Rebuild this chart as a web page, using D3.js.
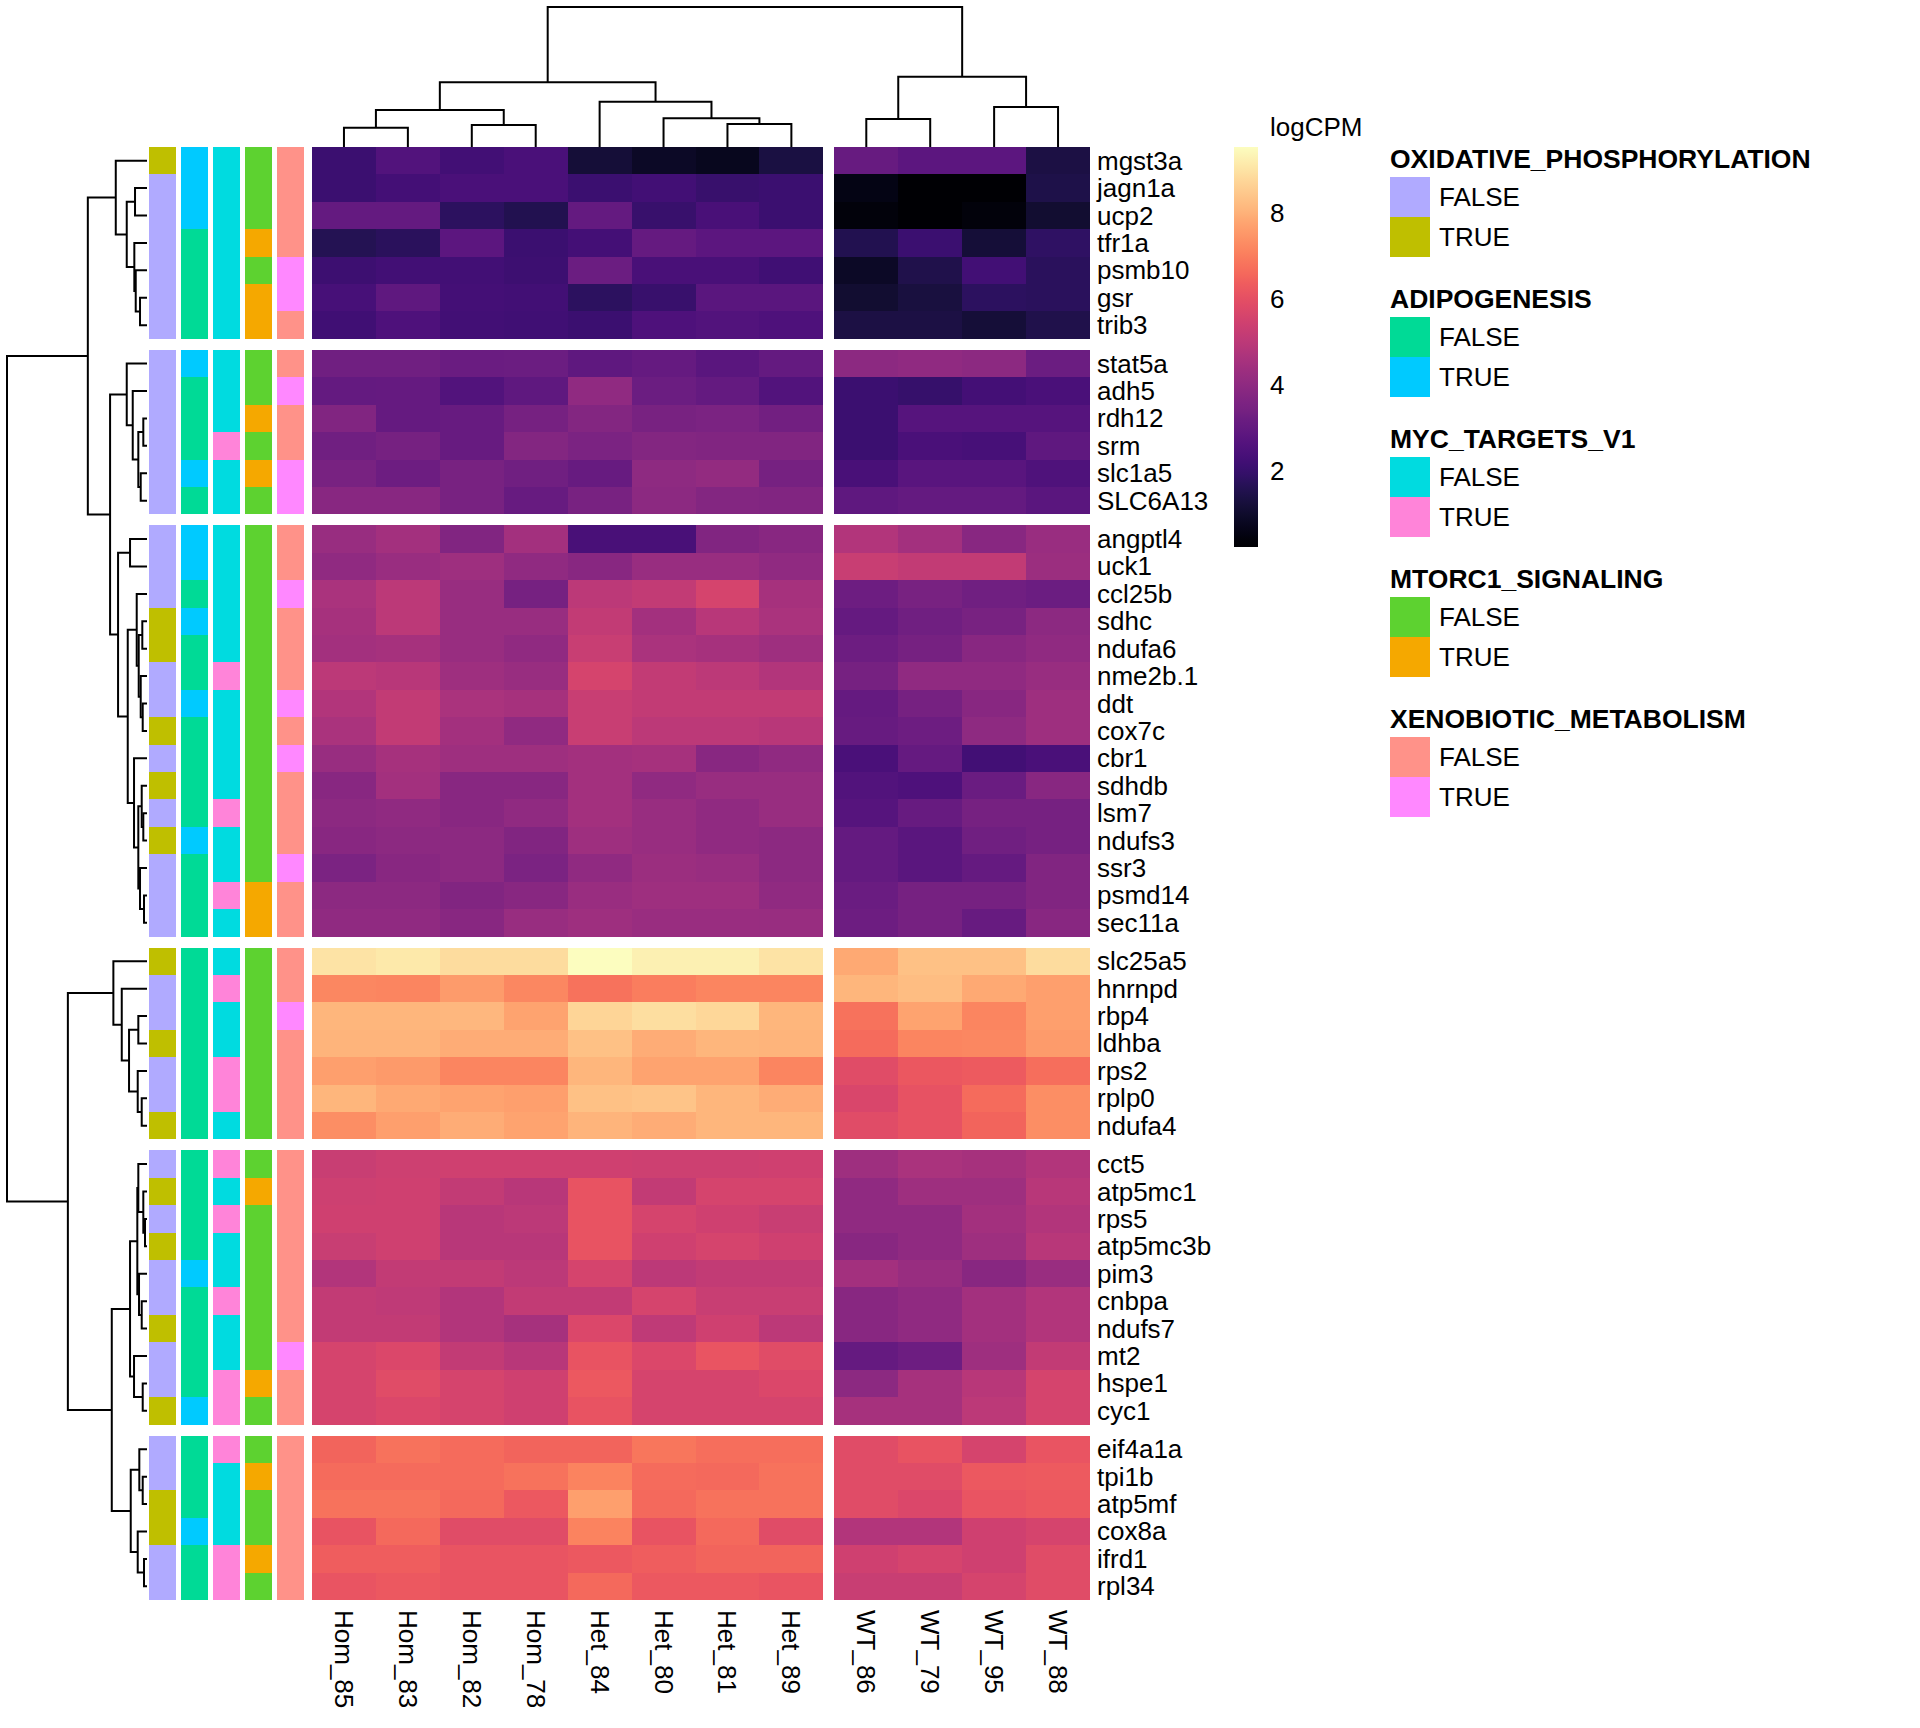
<!DOCTYPE html>
<html><head><meta charset="utf-8">
<script src="https://cdn.jsdelivr.net/npm/d3@7"></script>
<style>
body{margin:0;background:#fff}
svg{display:block;font-family:"Liberation Sans",Arial,Helvetica,sans-serif}
</style>
</head><body>
<svg id="chart" width="1920" height="1728"></svg>
<script>
// ---------------- DATA ----------------
const samplesA = ["Hom_85","Hom_83","Hom_82","Hom_78","Het_84","Het_80","Het_81","Het_89"];
const samplesB = ["WT_86","WT_79","WT_95","WT_88"];

const genesB1 = ["mgst3a","jagn1a","ucp2","tfr1a","psmb10","gsr","trib3"];
const genesB2 = ["stat5a","adh5","rdh12","srm","slc1a5","SLC6A13"];
const genesB3 = ["angptl4","uck1","ccl25b","sdhc","ndufa6","nme2b.1","ddt","cox7c","cbr1","sdhdb","lsm7","ndufs3","ssr3","psmd14","sec11a"];
const genesB4 = ["slc25a5","hnrnpd","rbp4","ldhba","rps2","rplp0","ndufa4"];
const genesB5 = ["cct5","atp5mc1","rps5","atp5mc3b","pim3","cnbpa","ndufs7","mt2","hspe1","cyc1"];
const genesB6 = ["eif4a1a","tpi1b","atp5mf","cox8a","ifrd1","rpl34"];

// logCPM, columns in order samplesA then samplesB
const valsB1 = [
 [2.1,2.6,2.25,2.45,1.2,0.9,0.75,1.35,3.1,2.85,2.85,1.4],
 [2.1,2.3,2.45,2.45,2.1,2.25,2.05,2.1,0.6,0.27,0.27,1.45],
 [3.0,3.0,1.8,1.55,3.0,2.05,2.4,2.1,0.45,0.24,0.45,1.1],
 [1.6,1.75,2.85,2.1,2.3,3.05,2.85,2.85,1.55,2.1,1.2,1.85],
 [2.15,2.25,2.25,2.15,3.2,2.4,2.4,2.2,0.9,1.5,2.25,1.75],
 [2.35,2.9,2.3,2.25,1.8,2.05,2.8,2.8,1.1,1.3,1.8,1.75],
 [2.2,2.5,2.25,2.2,2.1,2.5,2.6,2.5,1.4,1.4,1.2,1.5]
];
const valsB2 = [
 [3.3,3.3,3.15,3.2,2.9,3.05,2.8,3.0,3.95,4.05,3.95,3.2],
 [3.0,3.05,2.6,2.9,4.05,3.2,3.0,2.6,2.1,2.0,2.3,2.45],
 [3.7,3.05,3.1,3.45,3.75,3.5,3.55,3.35,2.1,2.7,2.7,2.7],
 [3.3,3.45,3.1,3.75,3.55,3.75,3.7,3.7,2.1,2.45,2.35,2.9],
 [3.5,3.25,3.5,3.3,3.1,4.0,4.1,3.45,2.4,2.75,2.75,2.55],
 [3.85,3.85,3.5,3.1,3.5,3.95,3.75,3.7,2.9,3.0,3.0,2.8]
];
const valsB3 = [
 [4.2,4.45,3.7,4.45,2.4,2.4,3.7,3.85,4.8,4.45,3.85,4.25],
 [4.05,4.25,4.35,4.05,3.85,4.2,4.2,4.05,5.3,5.15,5.15,4.3],
 [4.6,5.0,4.2,3.45,5.0,5.15,5.6,4.55,3.25,3.5,3.3,3.2],
 [4.55,5.0,4.2,4.2,5.15,4.45,4.95,4.6,3.05,3.3,3.5,3.95],
 [4.45,4.55,4.2,4.05,5.3,4.6,4.55,4.35,3.25,3.45,3.85,4.05],
 [5.0,4.95,4.35,4.2,5.6,5.15,5.0,4.8,3.45,4.05,4.05,4.2],
 [4.8,5.15,4.6,4.55,5.3,5.15,5.15,5.15,3.05,3.45,3.85,4.35],
 [4.6,5.15,4.45,4.05,5.3,5.0,5.0,4.95,3.1,3.25,4.0,4.35],
 [4.2,4.55,4.35,4.35,4.45,4.55,3.85,4.05,2.45,3.05,2.25,2.45],
 [3.85,4.45,3.85,3.85,4.45,4.05,4.2,4.2,2.6,2.5,3.15,3.85],
 [3.95,4.05,3.85,4.05,4.45,4.2,4.05,4.2,2.7,3.1,3.45,3.45],
 [3.85,3.95,3.95,3.7,4.35,4.2,4.05,3.95,3.0,2.8,3.3,3.45],
 [3.55,3.85,3.95,3.55,4.05,4.3,4.2,3.95,3.0,2.8,3.05,3.7],
 [3.95,3.95,3.7,3.85,4.25,4.35,4.35,4.05,3.15,3.45,3.45,3.7],
 [4.05,4.05,3.85,4.2,4.35,4.25,4.25,4.2,3.25,3.45,3.1,3.85]
];
const valsB4 = [
 [9.0,9.1,8.85,8.85,9.53,9.25,9.25,9.0,7.85,8.3,8.3,8.85],
 [7.2,7.15,7.6,7.2,6.8,7.0,7.15,7.15,8.1,8.25,7.85,7.67],
 [8.1,8.1,8.15,7.75,8.7,8.9,8.75,8.1,6.8,7.75,7.15,7.67],
 [8.05,8.05,7.9,7.9,8.3,7.9,8.1,8.05,6.65,7.15,7.2,7.6],
 [7.67,7.55,7.15,7.15,8.1,7.75,7.75,7.15,5.9,6.2,6.3,6.7],
 [8.1,7.85,7.75,7.67,8.3,8.4,8.1,7.9,5.7,6.05,6.65,7.35],
 [7.35,7.67,7.9,7.75,8.05,7.9,8.1,8.1,5.9,6.05,6.5,7.35]
];
const valsB5 = [
 [5.3,5.4,5.45,5.45,5.45,5.4,5.4,5.45,4.35,4.6,4.55,4.8],
 [5.4,5.45,5.15,4.95,6.1,5.15,5.6,5.6,4.05,4.35,4.35,4.95],
 [5.45,5.45,4.95,5.0,6.1,5.6,5.45,5.3,4.05,4.05,4.45,4.8],
 [5.3,5.45,4.95,4.95,6.1,5.45,5.6,5.45,3.85,4.05,4.35,4.95],
 [4.8,5.15,5.15,5.0,5.6,5.0,5.15,5.15,4.45,4.2,3.85,4.25],
 [5.15,5.1,4.8,5.15,5.15,5.6,5.3,5.3,3.85,4.05,4.45,4.8],
 [5.15,5.15,4.8,4.55,5.75,5.1,5.45,5.0,3.85,4.05,4.45,4.8],
 [5.6,5.75,5.15,4.95,6.1,5.75,6.15,5.9,3.05,3.25,4.35,5.15],
 [5.6,5.9,5.6,5.45,6.25,5.6,5.6,5.75,3.95,4.55,4.95,5.6],
 [5.6,5.75,5.6,5.45,6.1,5.6,5.6,5.6,4.55,4.55,5.0,5.6]
];
const valsB6 = [
 [6.5,6.8,6.65,6.5,6.5,6.85,6.7,6.7,5.9,6.1,5.6,6.15],
 [6.65,6.65,6.65,6.8,7.1,6.65,6.6,6.8,5.9,5.9,6.25,6.3],
 [6.8,6.8,6.6,6.25,7.67,6.6,6.8,6.8,5.9,5.75,6.15,6.25],
 [6.1,6.6,5.9,5.9,7.1,6.1,6.6,5.9,4.8,4.8,5.45,5.6],
 [6.35,6.35,6.15,6.15,6.25,6.35,6.5,6.5,5.45,5.6,5.45,5.9],
 [6.15,6.25,6.15,6.15,6.6,6.25,6.25,6.15,5.3,5.3,5.6,5.9]
];

// row annotations (1 = TRUE), in row order of the 51 genes
const annOxphos = [1,0,0,0,0,0,0, 0,0,0,0,0,0, 0,0,0,1,1,0,0,1,0,1,0,1,0,0,0, 1,0,0,1,0,0,1, 0,1,0,1,0,0,1,0,0,1, 0,0,1,1,0,0];
const annAdipo  = [1,1,1,0,0,0,0, 1,0,0,0,1,0, 1,1,0,1,0,0,1,0,0,0,0,1,0,0,0, 0,0,0,0,0,0,0, 0,0,0,0,1,0,0,0,0,1, 0,0,0,1,0,0];
const annMyc    = [0,0,0,0,0,0,0, 0,0,0,1,0,0, 0,0,0,0,0,1,0,0,0,0,1,0,0,1,0, 0,1,0,0,1,1,0, 1,0,1,0,0,1,0,0,1,1, 1,0,0,0,1,1];
const annMtorc1 = [0,0,0,1,0,1,1, 0,0,1,0,1,0, 0,0,0,0,0,0,0,0,0,0,0,0,0,1,1, 0,0,0,0,0,0,0, 0,1,0,0,0,0,0,0,1,0, 0,1,0,0,1,0];
const annXeno   = [0,0,0,0,1,1,0, 0,1,0,0,1,1, 0,0,1,0,0,0,1,0,1,0,0,0,1,0,0, 0,0,1,0,0,0,0, 0,0,0,0,0,0,0,1,0,0, 0,0,0,0,0,0];

const annNames  = ["OXIDATIVE_PHOSPHORYLATION","ADIPOGENESIS","MYC_TARGETS_V1","MTORC1_SIGNALING","XENOBIOTIC_METABOLISM"];
const annLevels = ["FALSE","TRUE"];

// dendrograms: [height, left, right]
const colTree = [14.03,
  [6.5, [3.7, [1.93,"Hom_85","Hom_83"], [2.2,"Hom_82","Hom_78"]],
        [4.53, "Het_84", [2.87, "Het_80", [2.3,"Het_81","Het_89"]]]],
  [7.03, [2.8,"WT_86","WT_79"], [4.0,"WT_95","WT_88"]]];

const treeB1 = [31.3, "mgst3a", [20.3, [12,"jagn1a","ucp2"], [12.7,"tfr1a",[11.3,"psmb10",[7,"gsr","trib3"]]]]];
const treeB2 = [20.3, "stat5a", [14.3, "adh5", [8.7, [3.7,"rdh12","srm"], [6.3,"slc1a5","SLC6A13"]]]];
const treeB3 = [29, [17,"angptl4","uck1"],
  [19.3, [10.3,"ccl25b",[8.3,[4.7,"sdhc","ndufa6"],[6.3,"nme2b.1",[4.3,"ddt","cox7c"]]]],
         [13,"cbr1",[8.7,[5.3,"sdhdb",[3.7,"lsm7","ndufs3"]],[7,"ssr3",[3,"psmd14","sec11a"]]]]]];
const treeB4 = [33.7, "slc25a5", [25.3, "hnrnpd", [18, [8.7,"rbp4","ldhba"], [9.3,"rps2",[5.3,"rplp0","ndufa4"]]]]];
const treeB5 = [17, [9.7, [8.7,"cct5",[3.7,"atp5mc1",[2,"rps5","atp5mc3b"]]], [8,"pim3",[5.3,"cnbpa","ndufs7"]]],
                    [13,"mt2",[4.3,"hspe1","cyc1"]]];
const treeB6 = [16.3, [7.7,"eif4a1a",[4.3,"tpi1b","atp5mf"]], [9.3,"cox8a",[3,"ifrd1","rpl34"]]];
const rowTree = [140.3, [59.3, treeB1, [37, treeB2, treeB3]], [79.3, treeB4, [35.3, treeB5, treeB6]]];

const legendTicks = [2,4,6,8];
const valueRange = [0.24, 9.53];

// ---------------- LAYOUT ----------------
const svg = d3.select("#chart");
const FONT = 26;
const HX0 = 312, HX1 = 1090, GAPX = 11;
const HY0 = 147, HY1 = 1600, GAPY = 11;

const colBlocks = [samplesA, samplesB];
const nCols = samplesA.length + samplesB.length;
const cw = (HX1 - HX0 - GAPX*(colBlocks.length-1)) / nCols;
const xScales = []; { let x = HX0; colBlocks.forEach(b => { xScales.push(d3.scaleBand().domain(b).range([x, x + b.length*cw])); x += b.length*cw + GAPX; }); }
const allSamples = colBlocks.flat();
const xOf = s => xScales.find(sc => sc.domain().includes(s));

const rowBlocks = [genesB1,genesB2,genesB3,genesB4,genesB5,genesB6];
const valBlocks = [valsB1,valsB2,valsB3,valsB4,valsB5,valsB6];
const nRows = d3.sum(rowBlocks, b => b.length);
const rh = (HY1 - HY0 - GAPY*(rowBlocks.length-1)) / nRows;
const yScales = []; { let y = HY0; rowBlocks.forEach(b => { yScales.push(d3.scaleBand().domain(b).range([y, y + b.length*rh])); y += b.length*rh + GAPY; }); }
const allGenes = rowBlocks.flat();
const yOf = g => yScales.find(sc => sc.domain().includes(g));

const color = d3.scaleSequential(d3.interpolateMagma).domain(valueRange);

// ---------------- HEATMAP ----------------
const cells = [];
rowBlocks.forEach((genes, bi) => genes.forEach((g, ri) => allSamples.forEach((s, ci) => cells.push({g, s, v: valBlocks[bi][ri][ci]}))));
svg.append("g").selectAll("rect").data(cells).join("rect")
  .attr("x", d => xOf(d.s)(d.s)).attr("y", d => yOf(d.g)(d.g))
  .attr("width", d => xOf(d.s).bandwidth()).attr("height", d => yOf(d.g).bandwidth())
  .attr("fill", d => color(d.v)).attr("shape-rendering","crispEdges");

// row labels
svg.append("g").selectAll("text").data(allGenes).join("text")
  .attr("x", HX1 + 7).attr("y", g => yOf(g)(g) + yOf(g).bandwidth()/2)
  .attr("dominant-baseline","central").attr("font-size", FONT).text(g => g);

// column labels
svg.append("g").selectAll("text").data(allSamples).join("text")
  .attr("transform", s => `translate(${xOf(s)(s) + xOf(s).bandwidth()/2},${HY1 + 10}) rotate(90)`)
  .attr("dominant-baseline","central").attr("font-size", FONT).text(s => s);

// ---------------- ROW ANNOTATIONS ----------------
const annValues = [annOxphos, annAdipo, annMyc, annMtorc1, annXeno];
const annColors = [["#B0AAFF","#BFBF00"],["#00DA96","#00CAFF"],["#00DBE0","#FF84D9"],["#5DD230","#F5A800"],["#FF9289","#FF88FF"]];
const annX = d3.scaleBand().domain(annNames).range([149, 304]).paddingInner(5/32);
const annCells = [];
annNames.forEach((a, ai) => allGenes.forEach((g, gi) => annCells.push({a, g, v: annValues[ai][gi], c: annColors[ai][annValues[ai][gi]]})));
svg.append("g").selectAll("rect").data(annCells).join("rect")
  .attr("x", d => annX(d.a)).attr("width", annX.bandwidth())
  .attr("y", d => yOf(d.g)(d.g)).attr("height", d => yOf(d.g).bandwidth())
  .attr("fill", d => d.c).attr("shape-rendering","crispEdges");

// ---------------- DENDROGRAMS ----------------
function collect(node, posOf, segs) {
  if (typeof node === "string") return {pos: posOf(node), h: 0};
  const [h, a, b] = node;
  const A = collect(a, posOf, segs), B = collect(b, posOf, segs);
  segs.push({h, A, B});
  return {pos: (A.pos + B.pos)/2, h};
}
// column dendrogram
const colH = d3.scaleLinear().domain([0, colTree[0]]).range([HY0, 7]);
const colSegs = []; collect(colTree, s => xOf(s)(s) + xOf(s).bandwidth()/2, colSegs);
svg.append("g").selectAll("path").data(colSegs).join("path")
  .attr("d", d => `M${d.A.pos},${colH(d.A.h)}V${colH(d.h)}H${d.B.pos}V${colH(d.B.h)}`)
  .attr("fill","none").attr("stroke","#000").attr("stroke-width",2);
// row dendrogram
const rowH = d3.scaleLinear().domain([0, rowTree[0]]).range([147, 7]);
const rowSegs = []; collect(rowTree, g => yOf(g)(g) + yOf(g).bandwidth()/2, rowSegs);
svg.append("g").selectAll("path").data(rowSegs).join("path")
  .attr("d", d => `M${rowH(d.A.h)},${d.A.pos}H${rowH(d.h)}V${d.B.pos}H${rowH(d.B.h)}`)
  .attr("fill","none").attr("stroke","#000").attr("stroke-width",2);

// ---------------- LEGENDS ----------------
const LB = {x: 1234, y0: 147, y1: 547, w: 24};
const grad = svg.append("defs").append("linearGradient").attr("id","cbar")
  .attr("x1",0).attr("y1",1).attr("x2",0).attr("y2",0);
d3.range(0, 1.0001, 0.02).forEach(t => grad.append("stop").attr("offset", t)
  .attr("stop-color", color(valueRange[0] + t*(valueRange[1]-valueRange[0]))));
svg.append("rect").attr("x", LB.x).attr("y", LB.y0).attr("width", LB.w).attr("height", LB.y1 - LB.y0).attr("fill","url(#cbar)");
const legY = d3.scaleLinear().domain(valueRange).range([LB.y1, LB.y0]);
svg.append("text").attr("x", 1270).attr("y", 136).attr("font-size", FONT).text("logCPM");
svg.append("g").selectAll("text").data(legendTicks).join("text")
  .attr("x", 1270).attr("y", d => legY(d)).attr("dominant-baseline","central").attr("font-size", FONT).text(d => d);

const LX = 1390;
annNames.forEach((a, ai) => {
  const base = 168 + 140*ai;
  const g = svg.append("g");
  g.append("text").attr("x", LX).attr("y", base).attr("font-size", 26.5).attr("font-weight","bold").text(a);
  annLevels.forEach((lv, li) => {
    g.append("rect").attr("x", LX).attr("y", base + 9 + 40*li).attr("width", 40).attr("height", 40).attr("fill", annColors[ai][li]);
    g.append("text").attr("x", LX + 49).attr("y", base + 29 + 40*li).attr("dominant-baseline","central").attr("font-size", FONT).text(lv);
  });
});
</script>
</body></html>
